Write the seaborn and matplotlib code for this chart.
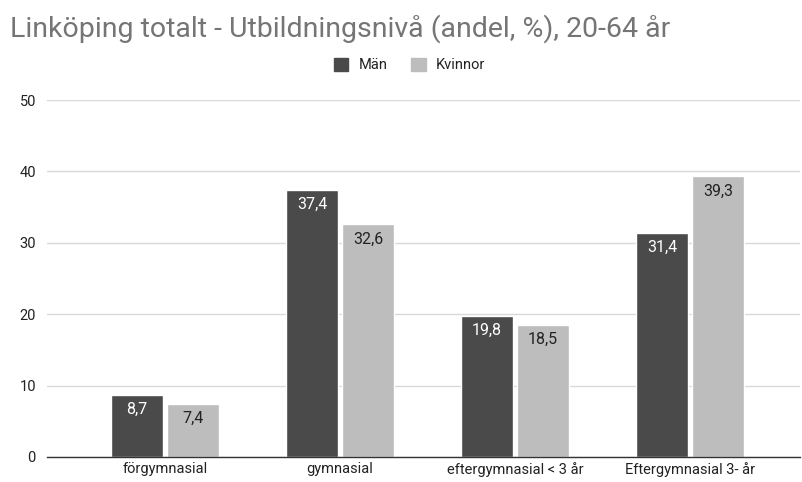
import matplotlib
matplotlib.use("Agg")
import matplotlib.pyplot as plt
import seaborn as sns
import pandas as pd

sns.set_theme(style="white")
plt.rcParams['font.family'] = ['Roboto', 'DejaVu Sans']

# data
categories = ["förgymnasial", "gymnasial", "eftergymnasial < 3 år", "Eftergymnasial 3- år"]
man = [8.7, 37.4, 19.8, 31.4]
kvinnor = [7.4, 32.6, 18.5, 39.3]
series = ["Män", "Kvinnor"]
colors = {"Män": "#4a4a4a", "Kvinnor": "#bdbdbd"}

df = pd.DataFrame({
    "Kategori": categories * 2,
    "Serie": ["Män"] * 4 + ["Kvinnor"] * 4,
    "Andel": man + kvinnor,
})

fig = plt.figure(figsize=(8.03, 4.82), dpi=100)
ax = fig.add_axes([0.0585, 0.052, 0.938, 0.7405])

sns.barplot(data=df, x="Kategori", y="Andel", hue="Serie", hue_order=series,
            palette=colors, width=0.64, gap=0.06, saturation=1, ax=ax, legend=False)

# värdeetiketter inuti staplarna
for cont, s in zip(ax.containers, series):
    txtcol = "white" if s == "Män" else "#222222"
    for bar in cont:
        h = bar.get_height()
        ax.text(bar.get_x() + bar.get_width() / 2, h - 1.0, f"{h:.1f}".replace(".", ","),
                ha="center", va="top", fontsize=11.5, color=txtcol)

ax.set_ylim(0, 50)
ax.set_xlim(-0.674, 3.63)
ax.set_yticks([0, 10, 20, 30, 40, 50])
ax.yaxis.grid(True, color="#d9d9d9", linewidth=1)
ax.set_axisbelow(True)
for side in ["top", "right", "left"]:
    ax.spines[side].set_visible(False)
ax.spines["bottom"].set_color("#333333")
ax.spines["bottom"].set_linewidth(1)
ax.tick_params(axis="both", length=0, labelsize=10.5, labelcolor="#222222")
ax.tick_params(axis="y", pad=8)
ax.tick_params(axis="x", pad=4)
ax.set_xlabel("")
ax.set_ylabel("")
for lbl in ax.get_yticklabels():
    lbl.set_horizontalalignment("right")

fig.text(0.0125, 0.94, "Linköping totalt - Utbildningsnivå (andel, %), 20-64 år",
         fontsize=20.5, color="#757575", va="center", ha="left")

handles = [plt.Rectangle((0, 0), 1, 1, color=colors[s]) for s in series]
fig.legend(handles, series, loc="center", bbox_to_anchor=(0.51, 0.865), ncol=2,
           frameon=False, fontsize=10.5, handlelength=1.0, handleheight=1.0,
           columnspacing=1.6, handletextpad=0.7, labelcolor="#222222")

fig.savefig("out.png", dpi=100)
